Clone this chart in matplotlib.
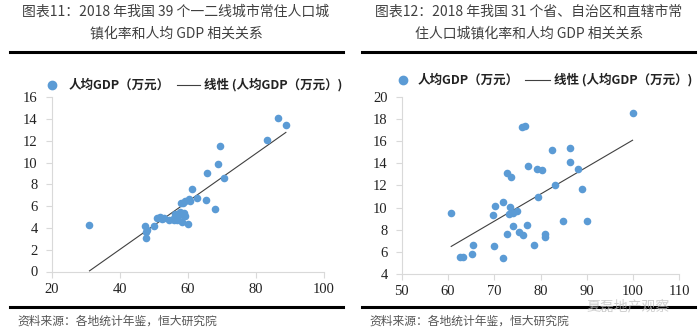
import numpy as np
import matplotlib
matplotlib.use("Agg")
import matplotlib.pyplot as plt
from matplotlib.lines import Line2D

plt.rcParams['font.family'] = ['Noto Sans CJK SC', 'DejaVu Sans']

# 图表11: 39 个一二线城市 (城镇化率 %, 人均GDP 万元)
city_rate = [31.1, 47.4, 47.7, 47.7, 48.0, 50.05, 50.8, 51.8, 52.3, 53.0,
             54.6, 55.5, 56.0, 56.5, 56.8, 56.2, 57.0, 57.7, 58.7, 59.0,
             59.3, 58.2, 60.1, 57.9, 58.5, 59.2, 60.3, 60.5, 61.1, 62.6,
             65.3, 68.0, 65.6, 69.0, 69.5, 70.7, 83.2, 86.5, 88.8]
city_gdp = [4.27, 4.15, 3.62, 3.10, 3.80, 4.15, 4.91, 5.00, 4.85, 4.90,
            4.70, 4.80, 4.70, 4.80, 4.75, 5.30, 5.10, 5.46, 5.22, 5.40,
            5.10, 4.54, 4.33, 6.29, 6.30, 6.45, 6.70, 6.50, 7.62, 6.79,
            6.54, 5.78, 9.06, 9.83, 11.50, 8.57, 12.07, 14.10, 13.50]

# 图表12: 省、自治区和直辖市
prov_rate = [60.7, 62.5, 63.2, 65.3, 65.5, 69.8, 70.2, 70.0, 72.0, 72.0,
             72.8, 73.7, 73.4, 73.1, 74.1, 74.9, 74.0, 72.8, 75.4, 76.3,
             76.1, 76.6, 77.4, 77.1, 78.6, 79.2, 80.3, 79.5, 81.0, 81.0,
             82.4, 83.1, 84.8, 86.4, 86.4, 88.0, 89.0, 90.1, 99.9]
prov_gdp = [9.55, 5.59, 5.59, 5.83, 6.61, 9.31, 10.15, 6.55, 10.54, 5.44,
            13.16, 12.80, 10.03, 9.43, 9.55, 9.70, 8.35, 7.63, 7.84, 7.54,
            17.30, 17.39, 13.76, 8.47, 6.61, 13.50, 13.40, 11.00, 7.63, 7.33,
            15.20, 12.05, 8.83, 15.35, 14.09, 13.46, 11.66, 8.83, 18.56]

left_xticks = [20, 40, 60, 80, 100]
left_yticks = [0, 2, 4, 6, 8, 10, 12, 14, 16]
right_xticks = [50, 60, 70, 80, 90, 100, 110]
right_yticks = [4, 6, 8, 10, 12, 14, 16, 18, 20]

title_left = ["图表11：2018 年我国 39 个一二线城市常住人口城", "镇化率和人均 GDP 相关关系"]
title_right = ["图表12：2018 年我国 31 个省、自治区和直辖市常", "住人口城镇化率和人均 GDP 相关关系"]
source = "资料来源：各地统计年鉴，恒大研究院"
legend_point = "人均GDP（万元）"
legend_line = "线性 (人均GDP（万元）)"

W, H = 700, 332
BLUE = "#5B9BD5"
GRAY = "#D9D9D9"
TXT = "#404040"

fig = plt.figure(figsize=(7, 3.32), dpi=100)


def px(x, y):
    return x / W, 1 - y / H


def draw_panel(rect, xs, ys, xticks, yticks):
    ax = fig.add_axes(rect)
    ax.scatter(xs, ys, s=30, color=BLUE, linewidths=0, zorder=3, clip_on=False)
    k, b = np.polyfit(xs, ys, 1)
    lx = np.array([min(xs), max(xs)])
    ax.plot(lx, k * lx + b, color=TXT, lw=0.8, zorder=2)
    ax.set_xlim(xticks[0], xticks[-1])
    ax.set_ylim(yticks[0], yticks[-1])
    ax.set_xticks(xticks)
    ax.set_yticks(yticks)
    for s in ["top", "right"]:
        ax.spines[s].set_visible(False)
    for s in ["left", "bottom"]:
        ax.spines[s].set_color(GRAY)
        ax.spines[s].set_linewidth(0.8)
    ax.tick_params(colors=GRAY, labelcolor="#222222", length=4, width=0.8,
                   labelsize=10.5)
    ax.tick_params(axis="x", pad=4)
    ax.tick_params(axis="y", pad=6)
    for lab in ax.get_xticklabels() + ax.get_yticklabels():
        lab.set_family("Liberation Serif")
    ax.set_facecolor("none")
    return ax


def rect_from_px(x0, x1, ytop, ybot):
    return [x0 / W, 1 - ybot / H, (x1 - x0) / W, (ybot - ytop) / H]


draw_panel(rect_from_px(51.7, 324, 97.3, 271.5), city_rate, city_gdp,
           left_xticks, left_yticks)
draw_panel(rect_from_px(401.7, 679.3, 96.7, 274.3), prov_rate, prov_gdp,
           right_xticks, right_yticks)


def legend(mx, y, t1x, lx0, lx1, t2x):
    fig.add_artist(Line2D([px(mx, y)[0]], [px(mx, y)[1]], marker="o",
                          markersize=6, color=BLUE, lw=0,
                          transform=fig.transFigure))
    fig.text(*px(t1x, y), legend_point, fontsize=9, fontweight="bold",
             color="#222222", va="center", ha="left")
    fig.add_artist(Line2D([lx0 / W, lx1 / W], [1 - y / H, 1 - y / H],
                          color=TXT, lw=0.8, transform=fig.transFigure))
    fig.text(*px(t2x, y), legend_line, fontsize=9, fontweight="bold",
             color="#222222", va="center", ha="left")


legend(52, 85, 69, 177, 200, 204)
legend(403, 80, 418, 525, 550, 554)

for cx, lines in [(176, title_left), (529, title_right)]:
    fig.text(*px(cx, 12), lines[0], fontsize=10, color=TXT,
             ha="center", va="center")
    fig.text(*px(cx, 33), lines[1], fontsize=10, color=TXT,
             ha="center", va="center")

for x0, x1 in [(10, 343), (362, 695)]:
    for y in (52, 307):
        fig.add_artist(Line2D([x0 / W, x1 / W], [1 - y / H, 1 - y / H],
                              color="black", lw=2.2,
                              transform=fig.transFigure))

fig.text(*px(17, 321), source, fontsize=8.5, color="#555555",
         ha="left", va="center")
fig.text(*px(369, 321), source, fontsize=8.5, color="#555555",
         ha="left", va="center")

# 公众号水印
fig.text(*px(628, 306), "夏磊地产观察", fontsize=10, color="#BBBBBB",
         alpha=0.7, ha="center", va="center", zorder=5)

fig.savefig("out.png", dpi=100)
